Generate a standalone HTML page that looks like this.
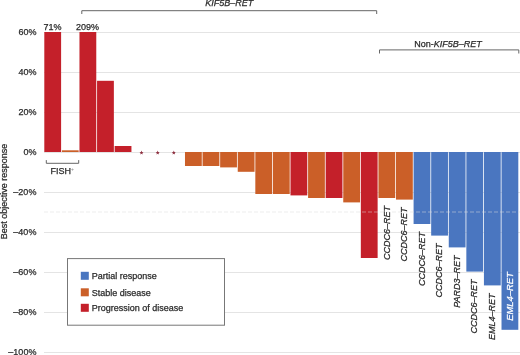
<!DOCTYPE html><html><head><meta charset="utf-8"><style>
html,body{margin:0;padding:0;background:#fff;}
body{width:520px;height:355px;overflow:hidden;}
svg{display:block;font-family:"Liberation Sans",sans-serif;will-change:transform;}
.t{font-size:9px;fill:#2a2a2a;stroke:#2a2a2a;stroke-width:0.25px;}
.i{font-style:italic;}
</style></head><body>
<svg width="520" height="355" viewBox="0 0 520 355">
<rect width="520" height="355" fill="#fff"/>
<line x1="44" x2="520" y1="352.5" y2="352.5" stroke="#e4e4e4" stroke-width="1"/>
<line x1="44" x2="520" y1="312.5" y2="312.5" stroke="#e4e4e4" stroke-width="1"/>
<line x1="44" x2="520" y1="272.5" y2="272.5" stroke="#e4e4e4" stroke-width="1"/>
<line x1="44" x2="520" y1="232.5" y2="232.5" stroke="#e4e4e4" stroke-width="1"/>
<line x1="44" x2="520" y1="192.5" y2="192.5" stroke="#e4e4e4" stroke-width="1"/>
<line x1="44" x2="520" y1="152.5" y2="152.5" stroke="#e4e4e4" stroke-width="1"/>
<line x1="44" x2="520" y1="112.5" y2="112.5" stroke="#e4e4e4" stroke-width="1"/>
<line x1="44" x2="520" y1="72.5" y2="72.5" stroke="#e4e4e4" stroke-width="1"/>
<line x1="44" x2="520" y1="32.5" y2="32.5" stroke="#e4e4e4" stroke-width="1"/>
<text class="t" x="36.4" y="355.3" text-anchor="end">–100%</text>
<text class="t" x="36.4" y="315.3" text-anchor="end">–80%</text>
<text class="t" x="36.4" y="275.3" text-anchor="end">–60%</text>
<text class="t" x="36.4" y="235.3" text-anchor="end">–40%</text>
<text class="t" x="36.4" y="195.3" text-anchor="end">–20%</text>
<text class="t" x="36.4" y="155.3" text-anchor="end">0%</text>
<text class="t" x="36.4" y="115.3" text-anchor="end">20%</text>
<text class="t" x="36.4" y="75.3" text-anchor="end">40%</text>
<text class="t" x="36.4" y="35.3" text-anchor="end">60%</text>
<rect x="44.30" y="32.00" width="16.8" height="120.00" fill="#c4202a"/>
<rect x="61.88" y="150.30" width="16.8" height="1.70" fill="#cb5f28"/>
<rect x="79.47" y="32.00" width="16.8" height="120.00" fill="#c4202a"/>
<rect x="97.06" y="80.80" width="16.8" height="71.20" fill="#c4202a"/>
<rect x="114.64" y="146.00" width="16.8" height="6.00" fill="#c4202a"/>
<rect x="184.98" y="152.00" width="16.8" height="14.00" fill="#cb5f28"/>
<rect x="202.56" y="152.00" width="16.8" height="14.00" fill="#cb5f28"/>
<rect x="220.15" y="152.00" width="16.8" height="15.40" fill="#cb5f28"/>
<rect x="237.74" y="152.00" width="16.8" height="19.80" fill="#cb5f28"/>
<rect x="255.32" y="152.00" width="16.8" height="42.00" fill="#cb5f28"/>
<rect x="272.91" y="152.00" width="16.8" height="42.00" fill="#cb5f28"/>
<rect x="290.49" y="152.00" width="16.8" height="43.40" fill="#c4202a"/>
<rect x="308.08" y="152.00" width="16.8" height="46.00" fill="#cb5f28"/>
<rect x="325.66" y="152.00" width="16.8" height="46.00" fill="#c4202a"/>
<rect x="343.25" y="152.00" width="16.8" height="50.40" fill="#cb5f28"/>
<rect x="360.83" y="152.00" width="16.8" height="106.00" fill="#c4202a"/>
<rect x="378.42" y="152.00" width="16.8" height="46.00" fill="#cb5f28"/>
<rect x="396.00" y="152.00" width="16.8" height="47.60" fill="#cb5f28"/>
<rect x="413.59" y="152.00" width="16.8" height="72.00" fill="#4a76c0"/>
<rect x="431.17" y="152.00" width="16.8" height="83.60" fill="#4a76c0"/>
<rect x="448.76" y="152.00" width="16.8" height="95.40" fill="#4a76c0"/>
<rect x="466.34" y="152.00" width="16.8" height="119.60" fill="#4a76c0"/>
<rect x="483.93" y="152.00" width="16.8" height="133.40" fill="#4a76c0"/>
<rect x="501.51" y="152.00" width="16.8" height="177.80" fill="#4a76c0"/>
<polygon points="141.50,150.60 142.06,151.94 143.50,152.05 142.40,152.99 142.73,154.40 141.50,153.64 140.27,154.40 140.60,152.99 139.50,152.05 140.94,151.94" fill="#8e3040"/>
<polygon points="157.70,150.60 158.26,151.94 159.70,152.05 158.60,152.99 158.93,154.40 157.70,153.64 156.47,154.40 156.80,152.99 155.70,152.05 157.14,151.94" fill="#8e3040"/>
<polygon points="173.80,150.60 174.36,151.94 175.80,152.05 174.70,152.99 175.03,154.40 173.80,153.64 172.57,154.40 172.90,152.99 171.80,152.05 173.24,151.94" fill="#8e3040"/>
<line x1="44" x2="520" y1="212.0" y2="212.0" stroke="#dddddd" stroke-opacity="0.5" stroke-width="1" stroke-dasharray="4 2"/>
<text class="t" x="52.6" y="29.5" text-anchor="middle">71%</text>
<text class="t" x="87.6" y="29.5" text-anchor="middle">209%</text>
<path d="M81.8,14 V10.7 H376.7 V14" fill="none" stroke="#666" stroke-width="1"/>
<text class="t i" x="229.3" y="5.9" text-anchor="middle">KIF5B–RET</text>
<path d="M379.5,53.5 V49.9 H518.8 V53.5" fill="none" stroke="#666" stroke-width="1"/>
<text class="t" x="448" y="46.8" text-anchor="middle">Non-<tspan class="i">KIF5B–RET</tspan></text>
<path d="M46.3,160.1 V163.3 H78.7 V160.1" fill="none" stroke="#666" stroke-width="1"/>
<text class="t" x="50.6" y="173.6">FISH<tspan font-size="5" dy="-2.5" style="fill:#888;stroke:none">+</tspan></text>
<text class="t" transform="translate(7,191.5) rotate(-90)" text-anchor="middle">Best objective response</text>
<text class="t i" transform="translate(389.51,206.00) rotate(-90)" text-anchor="end">CCDC6–RET</text>
<text class="t i" transform="translate(407.10,207.60) rotate(-90)" text-anchor="end">CCDC6–RET</text>
<text class="t i" transform="translate(424.69,232.00) rotate(-90)" text-anchor="end">CCDC6–RET</text>
<text class="t i" transform="translate(442.27,243.60) rotate(-90)" text-anchor="end">CCDC6–RET</text>
<text class="t i" transform="translate(459.86,255.40) rotate(-90)" text-anchor="end">PARD3–RET</text>
<text class="t i" transform="translate(477.44,279.60) rotate(-90)" text-anchor="end">CCDC6–RET</text>
<text class="t i" transform="translate(495.02,293.40) rotate(-90)" text-anchor="end">EML4–RET</text>
<text class="t i" style="fill:#fff;stroke:#fff;font-size:9.4px" transform="translate(513.11,320.80) rotate(-90)" text-anchor="start">EML4–RET</text>
<rect x="67.5" y="258.6" width="157" height="66.6" fill="#fff" stroke="#777" stroke-width="1"/>
<rect x="80.8" y="271.8" width="8" height="8" fill="#4a76c0"/>
<text class="t" x="91.8" y="279.1">Partial response</text>
<rect x="80.8" y="288.3" width="8" height="8" fill="#cb5f28"/>
<text class="t" x="91.8" y="295.6">Stable disease</text>
<rect x="80.8" y="303.8" width="8" height="8" fill="#c4202a"/>
<text class="t" x="91.8" y="311.1">Progression of disease</text>
</svg></body></html>
